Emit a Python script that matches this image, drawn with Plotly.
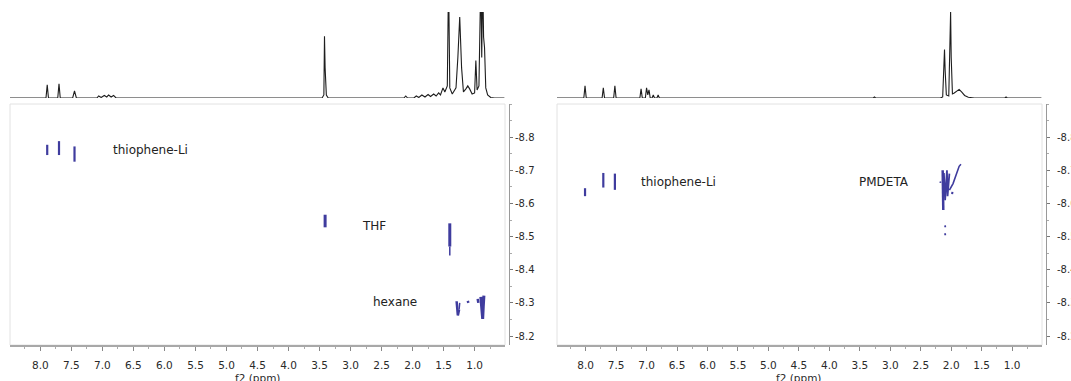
import plotly.graph_objects as go

W, H = 1071, 381

# ---------------- data ----------------
# 1D 1H spectra (ppm, intensity in arbitrary units; 85 = top of strip)
spec_left = [
    (8.49, 0), (7.91, 0), (7.89, 13), (7.87, 0), (7.72, 0), (7.70, 14), (7.68, 0),
    (7.48, 0), (7.45, 7), (7.42, 0), (7.09, 0), (7.06, 2), (7.02, 0.5), (6.97, 2.5),
    (6.93, 1), (6.90, 3), (6.86, 1), (6.82, 2.5), (6.78, 0),
    (3.46, 0), (3.43, 3), (3.42, 61), (3.41, 30), (3.39, 3), (3.36, 0),
    (2.14, 0), (2.11, 2), (2.08, 0), (1.98, 0), (1.94, 2), (1.90, 0.5), (1.85, 3),
    (1.80, 1), (1.75, 3.5), (1.71, 1.5), (1.66, 4), (1.62, 2), (1.58, 5), (1.55, 3),
    (1.51, 10), (1.48, 6), (1.44, 12), (1.42, 120), (1.40, 10), (1.36, 4),
    (1.30, 10), (1.27, 40), (1.24, 80), (1.21, 30), (1.18, 6), (1.14, 9),
    (1.11, 12), (1.08, 9), (1.04, 4), (1.00, 5), (0.98, 37), (0.96, 8),
    (0.93, 12), (0.90, 120), (0.885, 40), (0.87, 120), (0.855, 60), (0.84, 50),
    (0.82, 10), (0.79, 3), (0.74, 0.5), (0.68, 0), (0.52, 0),
]
spec_right = [
    (8.47, 0), (8.03, 0), (8.01, 12), (7.99, 0), (7.73, 0), (7.71, 10), (7.69, 0),
    (7.54, 0), (7.52, 12), (7.50, 0), (7.11, 0), (7.09, 9), (7.07, 0), (7.02, 0),
    (7.00, 10), (6.98, 3), (6.96, 8), (6.94, 0), (6.91, 0), (6.89, 3), (6.87, 0),
    (6.83, 0), (6.81, 3), (6.79, 0), (3.28, 0), (3.26, 1), (3.24, 0),
    (2.18, 0), (2.14, 1), (2.12, 25), (2.11, 48), (2.10, 28), (2.08, 3),
    (2.04, 2), (2.02, 50), (2.01, 85), (2.00, 40), (1.98, 4), (1.95, 5),
    (1.91, 7), (1.87, 8.5), (1.83, 6), (1.78, 2.5), (1.72, 0.8), (1.62, 0),
    (1.12, 0), (1.10, 1), (1.08, 0), (0.52, 0),
]

# DOSY cross peaks: strokes of (ppm, log D) points, with stroke width
dosy_left = [
    ([(7.89, -8.777), (7.89, -8.746)], 2.2),
    ([(7.70, -8.788), (7.70, -8.746)], 2.2),
    ([(7.45, -8.772), (7.45, -8.726)], 2.2),
    ([(3.41, -8.566), (3.41, -8.528)], 3),
    ([(1.40, -8.540), (1.40, -8.470)], 3),
    ([(1.40, -8.470), (1.40, -8.443)], 1.5),
    ([(1.29, -8.305), (1.27, -8.262), (1.25, -8.280)], 2.5),
    ([(1.25, -8.280), (1.24, -8.300)], 1.5),
    ([(1.11, -8.306), (1.10, -8.300)], 2.5),
    ([(0.95, -8.312), (0.94, -8.300)], 2.5),
    ([(0.90, -8.318), (0.88, -8.285), (0.87, -8.252), (0.86, -8.290), (0.85, -8.322)], 3),
]
dosy_right = [
    ([(8.01, -8.646), (8.01, -8.622)], 2.2),
    ([(7.71, -8.692), (7.71, -8.648)], 2.2),
    ([(7.52, -8.690), (7.52, -8.641)], 2.2),
    ([(2.14, -8.700), (2.13, -8.580)], 2.5),
    ([(2.12, -8.692), (2.10, -8.610), (2.07, -8.700), (2.06, -8.622), (2.03, -8.690)], 1.8),
    ([(2.03, -8.640), (1.97, -8.660), (1.87, -8.712), (1.84, -8.718)], 1.6),
    ([(1.98, -8.635), (1.985, -8.628)], 2),
    ([(2.18, -8.666), (2.175, -8.662)], 1.8),
    ([(2.10, -8.534), (2.098, -8.528)], 1.8),
    ([(2.10, -8.510), (2.098, -8.504)], 1.8),
]

labels_left = [("thiophene-Li", 6.22, -8.762), ("THF", 2.62, -8.532), ("hexane", 2.29, -8.304)]
labels_right = [("thiophene-Li", 6.48, -8.666), ("PMDETA", 3.11, -8.666)]

x_ticks = [8.0, 7.5, 7.0, 6.5, 6.0, 5.5, 5.0, 4.5, 4.0, 3.5, 3.0, 2.5, 2.0, 1.5, 1.0]
y_ticks = [-8.8, -8.7, -8.6, -8.5, -8.4, -8.3, -8.2]

# ---------------- layout geometry ----------------
SPOT = "#3f3c9e"
LINE = "#1e1e1e"
FONT = "DejaVu Sans"

panels = [
    dict(x0=10, x1=505, yax=509, ylab=None, xr=[8.49, 0.51], spec=spec_left,
         dosy=dosy_left, labels=labels_left),
    dict(x0=557, x1=1042, yax=1046, ylab=1056, xr=[8.47, 0.51], spec=spec_right,
         dosy=dosy_right, labels=labels_right),
]
box_top, box_bot = 104, 345
spec_top, spec_bot = 12, 98
yrange = [-8.173, -8.9]
ydom = [(H - box_bot) / H, (H - box_top) / H]

fig = go.Figure()
layout = {}
shapes = []
annotations = []

tickfont_y = dict(family=FONT, size=10, color="#2a2a2a")

for i, p in enumerate(panels):
    n2d = 2 * i + 1
    n1d = 2 * i + 2
    xa2d = "x" if n2d == 1 else f"x{n2d}"
    ya2d = "y" if n2d == 1 else f"y{n2d}"
    xa1d, ya1d = f"x{n1d}", f"y{n1d}"
    dom = [p["x0"] / W, p["x1"] / W]

    # 1D spectrum
    fig.add_trace(go.Scatter(
        x=[a for a, b in p["spec"]], y=[b for a, b in p["spec"]],
        mode="lines", line=dict(color=LINE, width=1.1),
        xaxis=xa1d, yaxis=ya1d, hoverinfo="skip", showlegend=False))
    # DOSY strokes
    for pts, wdt in p["dosy"]:
        fig.add_trace(go.Scatter(
            x=[a for a, b in pts], y=[b for a, b in pts], mode="lines",
            line=dict(color=SPOT, width=wdt), xaxis=xa2d, yaxis=ya2d,
            hoverinfo="skip", showlegend=False))

    key2 = "xaxis" if n2d == 1 else f"xaxis{n2d}"
    keyy2 = "yaxis" if n2d == 1 else f"yaxis{n2d}"
    layout[key2] = dict(
        domain=dom, range=p["xr"], anchor=ya2d, showgrid=False, zeroline=False,
        automargin=False,
        showline=True, linecolor="#a8a8a8", linewidth=1.5,
        tickmode="array", tickvals=x_ticks, ticktext=[f"{v:.1f}" for v in x_ticks],
        ticks="outside", ticklen=4, tickcolor="#888", tickwidth=1,
        minor=dict(dtick=0.25, tick0=0, ticks="outside", ticklen=2, tickcolor="#aaa"),
        ticklabelstandoff=6,
        tickfont=dict(family=FONT, size=10.5, color="#2a2a2a"))
    layout[keyy2] = dict(
        domain=ydom, range=yrange, automargin=False,
        anchor="free", position=p["yax"] / W, side="right",
        showgrid=False, zeroline=False, showline=True, linecolor="#999", linewidth=1,
        tickmode="array", tickvals=y_ticks, ticktext=[f"{v:.1f}" for v in y_ticks],
        showticklabels=p["ylab"] is None,
        ticks="outside", ticklen=3, tickcolor="#777",
        minor=dict(dtick=0.05, tick0=0, ticks="outside", ticklen=2, tickcolor="#aaa"),
        tickfont=tickfont_y)
    layout[f"xaxis{n1d}"] = dict(
        domain=dom, range=p["xr"], anchor=ya1d, visible=False, automargin=False)
    layout[f"yaxis{n1d}"] = dict(
        domain=[(H - spec_bot) / H, (H - spec_top) / H], range=[0, 85],
        anchor=xa1d, visible=False, automargin=False)

    if p["ylab"] is not None:
        # labels-only axis, set a little further out (cut by the page edge)
        fig.add_trace(go.Scatter(x=[], y=[], xaxis=xa2d, yaxis="y5",
                                 hoverinfo="skip", showlegend=False))
        layout["yaxis5"] = dict(
            domain=ydom, range=yrange, overlaying=ya2d, anchor="free",
            position=p["ylab"] / W, side="right", showgrid=False, zeroline=False,
            automargin=False,
            showline=False, ticks="", tickmode="array", tickvals=y_ticks,
            ticktext=[f"{v:.1f}" for v in y_ticks], tickfont=tickfont_y)

    # frame of the 2D area
    shapes.append(dict(type="rect", xref=f"{xa2d} domain", yref=f"{ya2d} domain",
                       x0=0, x1=1, y0=0, y1=1, line=dict(color="#e2e2e2", width=1),
                       layer="below"))
    # labels
    for txt, xv, yv in p["labels"]:
        annotations.append(dict(text=txt, x=xv, y=yv, xref=xa2d, yref=ya2d,
                                showarrow=False, font=dict(family=FONT, size=12, color="#222")))
    # axis title
    annotations.append(dict(text="f2 (ppm)", x=4.5, xref=xa2d, y=(H - 378) / H,
                            yref="paper", showarrow=False, yanchor="middle",
                            font=dict(family=FONT, size=10.5, color="#2a2a2a")))

fig.update_layout(
    width=W, height=H, margin=dict(l=0, r=0, t=0, b=0, autoexpand=False),
    paper_bgcolor="white", plot_bgcolor="white",
    shapes=shapes, annotations=annotations, **layout)

fig.write_html("out.html")
